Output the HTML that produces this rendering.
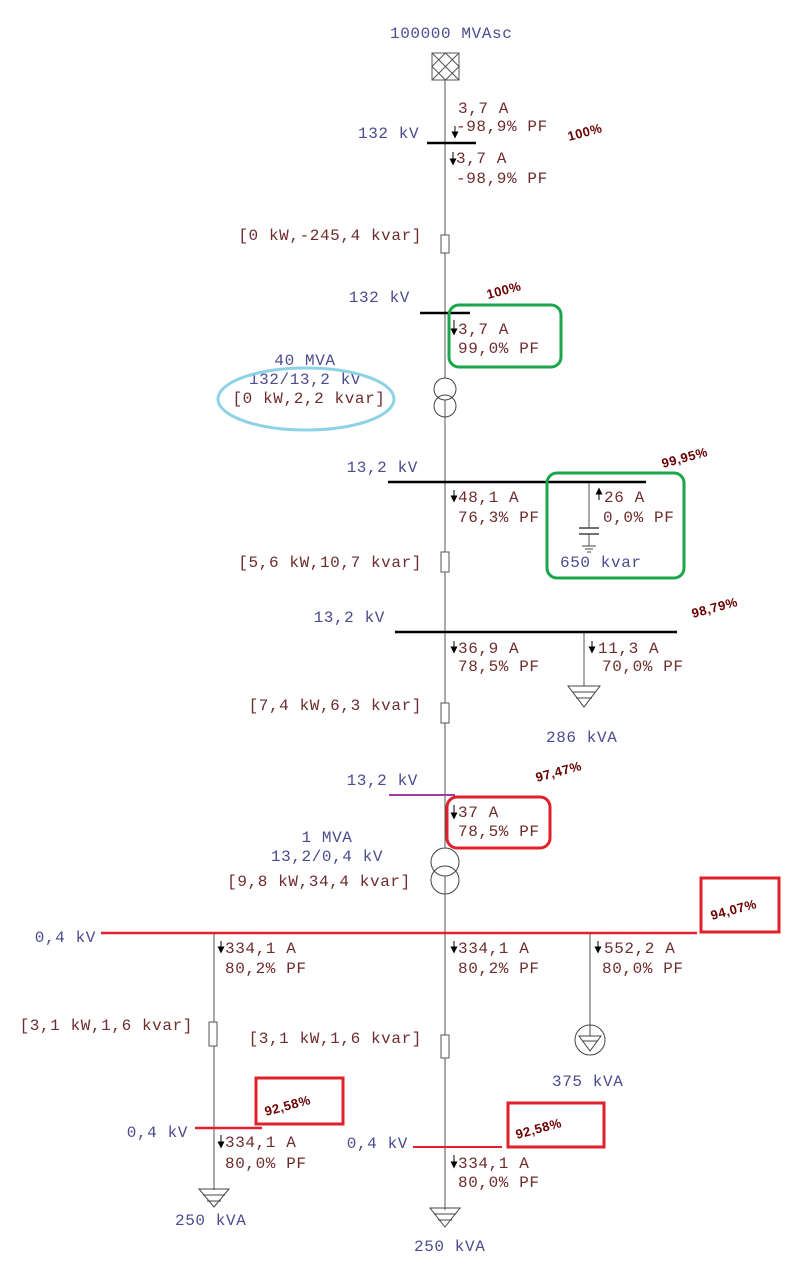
<!DOCTYPE html>
<html><head><meta charset="utf-8"><style>
html,body{margin:0;padding:0;background:#fff;}
svg{display:block}
text{font-family:"Liberation Mono",monospace;font-size:16px;letter-spacing:0.6px}
.b{fill:#4b4b8f}.r{fill:#6e2c2c}
.p{font-family:"Liberation Sans",sans-serif;font-weight:bold;font-size:13px;fill:#6a0000;letter-spacing:0.5px}
</style></head><body>
<svg width="800" height="1281" viewBox="0 0 800 1281" xmlns="http://www.w3.org/2000/svg">
<defs><marker id="a" markerWidth="7" markerHeight="7" refX="3.5" refY="3.5" orient="auto"><path d="M0,0L7,3.5L0,7z" fill="#000"/></marker></defs>
<g stroke="#555" stroke-width="1" fill="none">
<line x1="445" y1="80" x2="445" y2="1210"/>
<line x1="214" y1="933" x2="214" y2="1190"/>
<line x1="589" y1="482" x2="589" y2="528"/>
<line x1="589" y1="534" x2="589" y2="546"/>
<line x1="584" y1="632" x2="584" y2="686"/>
<line x1="590" y1="933" x2="590" y2="1025"/>
</g>
<rect x="432" y="53" width="27" height="27" fill="#fff" stroke="#555"/>
<path d="M432,53L459,80M432,80L459,53M432,66.5L445.5,53L459,66.5L445.5,80Z" stroke="#555" fill="none"/>
<text x="390" y="38" class="b">100000 MVAsc</text>
<line x1="427" y1="143" x2="476" y2="143" stroke="#000" stroke-width="2.5"/>
<text x="358" y="138" class="b">132 kV</text>
<text x="458" y="113" class="r">3,7 A</text>
<text x="456" y="131" class="r">-98,9% PF</text>
<text x="456" y="163" class="r">3,7 A</text>
<text x="456" y="183" class="r">-98,9% PF</text>
<text class="p" transform="translate(569,141) rotate(-15)">100%</text>
<rect x="441" y="235" width="8" height="18" fill="#fff" stroke="#555"/>
<text x="422" y="240" text-anchor="end" class="r">[0 kW,-245,4 kvar]</text>
<line x1="420" y1="313" x2="470" y2="313" stroke="#000" stroke-width="2.5"/>
<text x="410" y="302" text-anchor="end" class="b">132 kV</text>
<text class="p" transform="translate(488,299) rotate(-15)">100%</text>
<rect x="449" y="305" width="112" height="62" rx="10" fill="none" stroke="#1aa64a" stroke-width="3"/>
<text x="458" y="334" class="r">3,7 A</text>
<text x="458" y="353" class="r">99,0% PF</text>
<circle cx="445" cy="389" r="11" fill="#fff" stroke="#444"/>
<circle cx="445" cy="406" r="11" fill="none" stroke="#444"/>
<text x="305" y="365" text-anchor="middle" class="b">40 MVA</text>
<text x="305" y="384" text-anchor="middle" class="b">132/13,2 kV</text>
<text x="309" y="403" text-anchor="middle" class="r">[0 kW,2,2 kvar]</text>
<ellipse cx="306" cy="399" rx="88" ry="31" fill="none" stroke="#8ed2e6" stroke-width="3"/>
<line x1="388" y1="482" x2="646" y2="482" stroke="#000" stroke-width="2.5"/>
<text x="418" y="472" text-anchor="end" class="b">13,2 kV</text>
<text class="p" transform="translate(663,468) rotate(-15)">99,95%</text>
<text x="458" y="502" class="r">48,1 A</text>
<text x="458" y="522" class="r">76,3% PF</text>
<line x1="579" y1="528" x2="599" y2="528" stroke="#444" stroke-width="1.5"/>
<line x1="579" y1="534" x2="599" y2="534" stroke="#444" stroke-width="1.5"/>
<line x1="582" y1="546" x2="596" y2="546" stroke="#444"/>
<line x1="585" y1="549" x2="593" y2="549" stroke="#444"/>
<line x1="587" y1="552" x2="591" y2="552" stroke="#444"/>
<text x="604" y="502" class="r">26 A</text>
<text x="603" y="522" class="r">0,0% PF</text>
<text x="560" y="567" class="b">650 kvar</text>
<rect x="547" y="473" width="137" height="105" rx="10" fill="none" stroke="#1aa64a" stroke-width="3"/>
<rect x="441" y="552" width="8" height="20" fill="#fff" stroke="#555"/>
<text x="422" y="567" text-anchor="end" class="r">[5,6 kW,10,7 kvar]</text>
<line x1="395" y1="632" x2="677" y2="632" stroke="#000" stroke-width="2.5"/>
<text x="385" y="622" text-anchor="end" class="b">13,2 kV</text>
<text class="p" transform="translate(693,618) rotate(-15)">98,79%</text>
<text x="458" y="653" class="r">36,9 A</text>
<text x="458" y="671" class="r">78,5% PF</text>
<text x="598" y="653" class="r">11,3 A</text>
<text x="602" y="671" class="r">70,0% PF</text>
<path d="M568,686H600L584,707Z M572,692H596 M576,698H592" fill="none" stroke="#444"/>
<text x="546" y="742" class="b">286 kVA</text>
<rect x="441" y="703" width="8" height="20" fill="#fff" stroke="#555"/>
<text x="422" y="710" text-anchor="end" class="r">[7,4 kW,6,3 kvar]</text>
<line x1="389" y1="795" x2="455" y2="795" stroke="#a23aa0" stroke-width="2"/>
<text x="418" y="785" text-anchor="end" class="b">13,2 kV</text>
<text class="p" transform="translate(537,782) rotate(-15)">97,47%</text>
<rect x="447" y="797" width="103" height="51" rx="10" fill="none" stroke="#e0202a" stroke-width="3"/>
<text x="458" y="817" class="r">37 A</text>
<text x="458" y="836" class="r">78,5% PF</text>
<circle cx="445" cy="862" r="14" fill="#fff" stroke="#444"/>
<circle cx="445" cy="880" r="14" fill="none" stroke="#444"/>
<text x="327" y="842" text-anchor="middle" class="b">1 MVA</text>
<text x="327" y="861" text-anchor="middle" class="b">13,2/0,4 kV</text>
<text x="319" y="886" text-anchor="middle" class="r">[9,8 kW,34,4 kvar]</text>
<line x1="101" y1="933" x2="697" y2="933" stroke="#e0202a" stroke-width="2.5"/>
<text x="96" y="942" text-anchor="end" class="b">0,4 kV</text>
<rect x="701" y="878" width="78" height="54" fill="none" stroke="#e0202a" stroke-width="3"/>
<text class="p" transform="translate(712,920) rotate(-15)">94,07%</text>
<text x="225" y="953" class="r">334,1 A</text>
<text x="225" y="973" class="r">80,2% PF</text>
<text x="458" y="953" class="r">334,1 A</text>
<text x="458" y="973" class="r">80,2% PF</text>
<text x="604" y="953" class="r">552,2 A</text>
<text x="602" y="973" class="r">80,0% PF</text>
<rect x="209" y="1022" width="8" height="24" fill="#fff" stroke="#555"/>
<text x="193" y="1030" text-anchor="end" class="r">[3,1 kW,1,6 kvar]</text>
<rect x="441" y="1035" width="8" height="23" fill="#fff" stroke="#555"/>
<text x="422" y="1043" text-anchor="end" class="r">[3,1 kW,1,6 kvar]</text>
<circle cx="590" cy="1040" r="15" fill="#fff" stroke="#444"/>
<path d="M579,1036H601L590,1051Z M582,1041H598" fill="none" stroke="#444"/>
<line x1="590" y1="1025" x2="590" y2="1036" stroke="#444"/>
<text x="552" y="1086" class="b">375 kVA</text>
<line x1="195" y1="1128" x2="262" y2="1128" stroke="#e0202a" stroke-width="2.5"/>
<text x="188" y="1137" text-anchor="end" class="b">0,4 kV</text>
<rect x="256" y="1078" width="87" height="46" fill="none" stroke="#e0202a" stroke-width="3"/>
<text class="p" transform="translate(266,1116) rotate(-15)">92,58%</text>
<text x="225" y="1147" class="r">334,1 A</text>
<text x="225" y="1168" class="r">80,0% PF</text>
<path d="M199,1189H229L214,1207Z M203,1195H225 M207,1201H221" fill="none" stroke="#444"/>
<text x="175" y="1225" class="b">250 kVA</text>
<line x1="413" y1="1147" x2="502" y2="1147" stroke="#e0202a" stroke-width="2"/>
<text x="408" y="1148" text-anchor="end" class="b">0,4 kV</text>
<rect x="508" y="1103" width="96" height="44" fill="none" stroke="#e0202a" stroke-width="3"/>
<text class="p" transform="translate(517,1139) rotate(-15)">92,58%</text>
<text x="458" y="1168" class="r">334,1 A</text>
<text x="458" y="1187" class="r">80,0% PF</text>
<path d="M430,1208H460L445,1227Z M434,1214H456 M438,1220H452" fill="none" stroke="#444"/>
<text x="414" y="1251" class="b">250 kVA</text>
<g stroke="#000" stroke-width="1" marker-end="url(#a)">
<line x1="455" y1="126" x2="455" y2="135"/>
<line x1="453" y1="152" x2="453" y2="162"/>
<line x1="454" y1="320" x2="454" y2="332"/>
<line x1="454" y1="490" x2="454" y2="499"/>
<line x1="599" y1="500" x2="599" y2="491"/>
<line x1="454" y1="641" x2="454" y2="650"/>
<line x1="592" y1="641" x2="592" y2="650"/>
<line x1="454" y1="805" x2="454" y2="816"/>
<line x1="221" y1="941" x2="221" y2="950"/>
<line x1="454" y1="941" x2="454" y2="950"/>
<line x1="598" y1="941" x2="598" y2="950"/>
<line x1="221" y1="1135" x2="221" y2="1145"/>
<line x1="454" y1="1155" x2="454" y2="1165"/>
</g>
</svg>
</body></html>
